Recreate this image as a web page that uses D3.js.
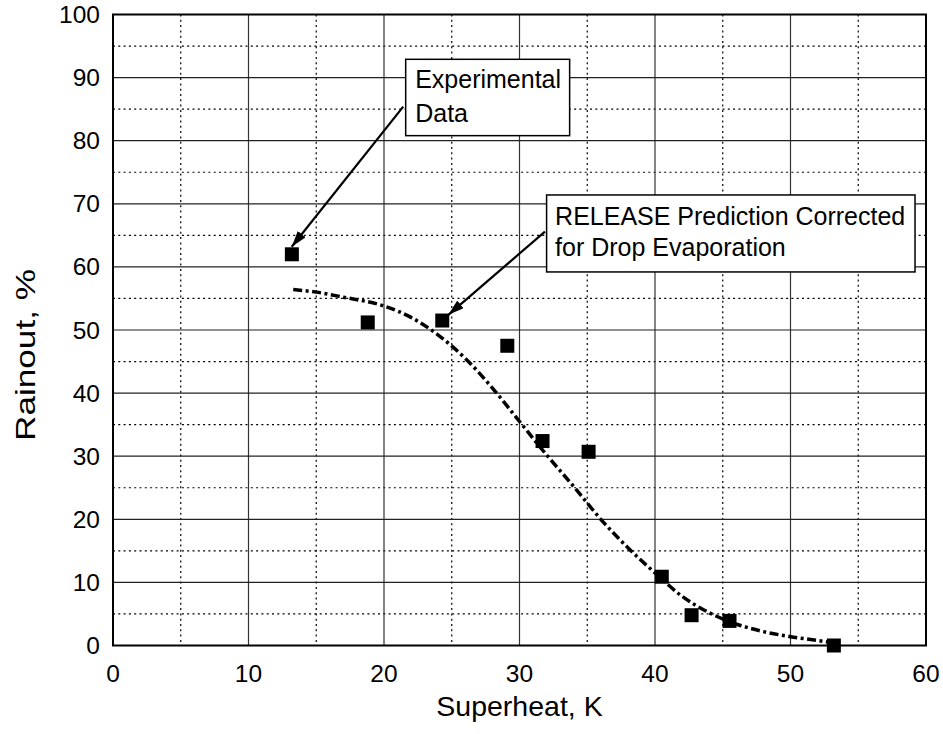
<!DOCTYPE html>
<html><head><meta charset="utf-8">
<script src="https://cdn.jsdelivr.net/npm/d3@7"></script>
<style>html,body{margin:0;padding:0;background:#fff;}svg{display:block;font-family:"Liberation Sans",Arial,sans-serif;}</style>
</head><body>
<svg id="c" width="943" height="734"></svg>
<script>
// Experimental data
const expX = [13.2, 18.8, 24.3, 29.1, 31.7, 35.1, 40.5, 42.7, 45.5, 53.2];
const expY = [62.0, 51.2, 51.5, 47.5, 32.4, 30.7, 10.9, 4.8, 3.9, 0.0];
// RELEASE prediction curve
const predX = [13.3, 15, 17, 20, 22, 24, 26, 28, 30, 32, 34, 36, 38, 40, 42, 44, 46, 48, 50, 52, 53.2];
const predY = [56.4, 56.0, 55.2, 53.8, 52.0, 49.2, 45.5, 40.8, 35.5, 30.2, 25.2, 20.0, 15.5, 11.5, 7.8, 5.2, 3.4, 2.2, 1.4, 0.8, 0.4];
// ticks
const xTicks = [0, 10, 20, 30, 40, 50, 60];
const yTicks = [0, 10, 20, 30, 40, 50, 60, 70, 80, 90, 100];
const xMinor = [5, 15, 25, 35, 45, 55];
const yMinor = [5, 15, 25, 35, 45, 55, 65, 75, 85, 95];
// annotations
const annLines1 = ["Experimental", "Data"];
const annLines2 = ["RELEASE Prediction Corrected", "for Drop Evaporation"];

const svg = d3.select("#c");
const L = 113, R = 926, T = 14.5, B = 645.5;
const x = d3.scaleLinear().domain([0, 60]).range([L, R]);
const y = d3.scaleLinear().domain([0, 100]).range([B, T]);
const FS = 24.5, FA = 25, FT = 28.5;

// grid: dotted minor
const g = svg.append("g");
g.selectAll(".vx").data(xMinor).join("line")
  .attr("x1", d => x(d)).attr("x2", d => x(d)).attr("y1", T).attr("y2", B)
  .attr("stroke", "#000").attr("stroke-width", 1.2).attr("stroke-dasharray", "2,3.3");
g.selectAll(".hy").data(yMinor).join("line")
  .attr("y1", d => y(d)).attr("y2", d => y(d)).attr("x1", L).attr("x2", R)
  .attr("stroke", "#000").attr("stroke-width", 1.2).attr("stroke-dasharray", "2,3.3");
// grid: solid major
g.selectAll(".vX").data(xTicks.slice(1, -1)).join("line")
  .attr("x1", d => x(d)).attr("x2", d => x(d)).attr("y1", T).attr("y2", B)
  .attr("stroke", "#333").attr("stroke-width", 1.2);
g.selectAll(".hY").data(yTicks.slice(1, -1)).join("line")
  .attr("y1", d => y(d)).attr("y2", d => y(d)).attr("x1", L).attr("x2", R)
  .attr("stroke", "#222").attr("stroke-width", 1.2);

// frame
svg.append("rect").attr("x", L).attr("y", T).attr("width", R - L).attr("height", B - T)
  .attr("fill", "none").attr("stroke", "#000").attr("stroke-width", 2);

// tick labels
svg.append("g").selectAll("text").data(xTicks).join("text")
  .attr("x", d => x(d)).attr("y", B + 36.5).attr("text-anchor", "middle")
  .attr("font-size", FS).text(d => d);
svg.append("g").selectAll("text").data(yTicks).join("text")
  .attr("x", L - 13).attr("y", d => y(d) + 8.5).attr("text-anchor", "end")
  .attr("font-size", FS).text(d => d);

// axis titles
svg.append("text").attr("x", (L + R) / 2).attr("y", 716).attr("text-anchor", "middle")
  .attr("font-size", FT).text("Superheat, K");
svg.append("text").attr("transform", "translate(35,355) rotate(-90)").attr("text-anchor", "middle")
  .attr("font-size", FT).attr("textLength", 172).attr("lengthAdjust", "spacingAndGlyphs")
  .text("Rainout, %");

// prediction curve
const pts = predX.map((d, i) => [d, predY[i]]);
svg.append("path").datum(pts)
  .attr("d", d3.line().x(d => x(d[0])).y(d => y(d[1])).curve(d3.curveMonotoneX))
  .attr("fill", "none").attr("stroke", "#000").attr("stroke-width", 3.5)
  .attr("stroke-dasharray", "9,3.5,3,3.5");

// experimental squares
const S = 14;
svg.append("g").selectAll("rect").data(expX.map((d, i) => [d, expY[i]])).join("rect")
  .attr("x", d => x(d[0]) - S / 2).attr("y", d => y(d[1]) - S / 2)
  .attr("width", S).attr("height", S).attr("fill", "#000");

// arrow marker
svg.append("defs").append("marker").attr("id", "ah")
  .attr("viewBox", "0 0 16 10").attr("refX", 16).attr("refY", 5)
  .attr("markerWidth", 16).attr("markerHeight", 10).attr("markerUnits", "userSpaceOnUse")
  .attr("orient", "auto")
  .append("path").attr("d", "M0,0 L16,5 L0,10 Z").attr("fill", "#000");

function arrow(x1, y1, x2, y2) {
  svg.append("line").attr("x1", x(x1)).attr("y1", y(y1)).attr("x2", x(x2)).attr("y2", y(y2))
    .attr("stroke", "#000").attr("stroke-width", 2.2).attr("marker-end", "url(#ah)");
}
arrow(21.42, 85.4, 13.19, 63.2);
arrow(31.88, 65.6, 24.75, 52.4);

function box(x0, y0, x1, y1, lines, padX, firstBase, lineGap) {
  const bx = x(x0), by = y(y0), bw = x(x1) - x(x0), bh = y(y1) - y(y0);
  svg.append("rect").attr("x", bx).attr("y", by).attr("width", bw).attr("height", bh)
    .attr("fill", "#fff").attr("stroke", "#000").attr("stroke-width", 1.5);
  svg.append("g").selectAll("text").data(lines).join("text")
    .attr("x", bx + padX).attr("y", (d, i) => by + firstBase + i * lineGap)
    .attr("font-size", FA).text(d => d);
}
box(21.6, 92.9, 33.7, 80.8, annLines1, 9.5, 28.5, 34);
box(32.0, 71.4, 59.19, 59.2, annLines2, 8.5, 30, 31);
</script>
</body></html>
